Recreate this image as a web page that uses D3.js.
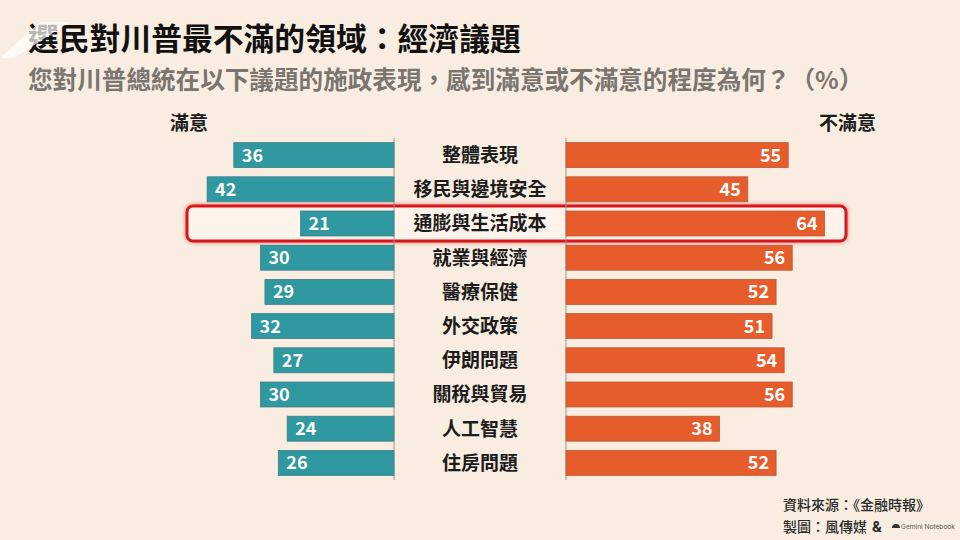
<!DOCTYPE html>
<html>
<head>
<meta charset="utf-8">
<script src="https://cdn.jsdelivr.net/npm/d3@7"></script>
<style>
  body { margin: 0; background: #f9ede1; }
  svg { display: block; font-family: "Noto Sans CJK TC", "Noto Sans", sans-serif; }
</style>
</head>
<body>
<div id="chart-area"></div>
<script>
const categories = ["整體表現", "移民與邊境安全", "通膨與生活成本", "就業與經濟", "醫療保健",
  "外交政策", "伊朗問題", "關稅與貿易", "人工智慧", "住房問題"];
const satisfied = [36, 42, 21, 30, 29, 32, 27, 30, 24, 26];
const dissatisfied = [55, 45, 64, 56, 52, 51, 54, 56, 38, 52];
const highlight = "通膨與生活成本";

const title = "選民對川普最不滿的領域：經濟議題";
const subtitle = "您對川普總統在以下議題的施政表現，感到滿意或不滿意的程度為何？（%）";
const leftLabel = "滿意";
const rightLabel = "不滿意";
const sourceText = "資料來源：《金融時報》";
const creditText = "製圖：風傳媒";
const creditTool = "Gemini Notebook";

const width = 960, height = 540;
const teal = "#2f98a0", orange = "#e65c2b";

const svg = d3.select("#chart-area")
  .append("svg")
  .attr("width", width)
  .attr("height", height);

svg.append("rect")
  .attr("width", width)
  .attr("height", height)
  .attr("fill", "#f9ede1");

// scales (left and right halves are drawn at slightly different widths in the original)
const y = d3.scaleBand()
  .domain(categories)
  .range([138, 480])
  .paddingInner(0.27)
  .paddingOuter(0.135);

const xLeft = d3.scaleLinear().domain([0, 50]).range([394, 394 - 222.5]);
const xRight = d3.scaleLinear().domain([0, 60]).range([566, 566 + 242.4]);

// highlight box
const hy = y(highlight) + y.bandwidth() / 2;
svg.append("rect")
  .attr("x", 187)
  .attr("y", hy - 17.5)
  .attr("width", 659)
  .attr("height", 35)
  .attr("rx", 6)
  .attr("fill", "#fdf3ea")
  .attr("stroke", "#d8161b")
  .attr("stroke-width", 3)
  .style("filter", "drop-shadow(0 0 2px rgba(220,30,30,0.6))");

// baseline lines
[xLeft(0), xRight(0)].forEach(x => {
  svg.append("line")
    .attr("x1", x).attr("x2", x)
    .attr("y1", y.range()[0]).attr("y2", y.range()[1])
    .attr("stroke", "#9a9590")
    .attr("stroke-width", 1);
});

const rows = categories.map((c, i) => ({ cat: c, sat: satisfied[i], dis: dissatisfied[i] }));

const row = svg.selectAll(".row")
  .data(rows)
  .enter()
  .append("g")
  .attr("class", "row");

row.append("rect")
  .attr("x", d => xLeft(d.sat))
  .attr("y", d => y(d.cat))
  .attr("width", d => xLeft(0) - xLeft(d.sat))
  .attr("height", y.bandwidth())
  .attr("fill", teal)
  .attr("stroke", "#3f7f83")
  .attr("stroke-width", 0.8);

row.append("rect")
  .attr("x", xRight(0))
  .attr("y", d => y(d.cat))
  .attr("width", d => xRight(d.dis) - xRight(0))
  .attr("height", y.bandwidth())
  .attr("fill", orange)
  .attr("stroke", "#b85a3a")
  .attr("stroke-width", 0.8);

row.append("text")
  .attr("x", d => xLeft(d.sat) + 8)
  .attr("y", d => y(d.cat) + y.bandwidth() / 2)
  .attr("dy", "0.36em")
  .attr("fill", "#fff")
  .attr("font-size", 18)
  .attr("font-weight", 700)
  .text(d => d.sat);

row.append("text")
  .attr("x", d => xRight(d.dis) - 7)
  .attr("y", d => y(d.cat) + y.bandwidth() / 2)
  .attr("dy", "0.36em")
  .attr("text-anchor", "end")
  .attr("fill", "#fff")
  .attr("font-size", 18)
  .attr("font-weight", 700)
  .text(d => d.dis);

row.append("text")
  .attr("x", (xLeft(0) + xRight(0)) / 2)
  .attr("y", d => y(d.cat) + y.bandwidth() / 2)
  .attr("dy", "0.36em")
  .attr("text-anchor", "middle")
  .attr("fill", "#1c1c1c")
  .attr("font-size", 19)
  .attr("font-weight", 700)
  .text(d => d.cat);

// header
svg.append("text")
  .attr("x", 28).attr("y", 50)
  .attr("font-size", 30.8)
  .attr("font-weight", 700)
  .attr("fill", "#111")
  .text(title);

svg.append("text")
  .attr("x", 28).attr("y", 89)
  .attr("font-size", 24.6)
  .attr("font-weight", 700)
  .attr("fill", "#7a756f")
  .text(subtitle);

svg.append("text")
  .attr("x", 170).attr("y", 130)
  .attr("font-size", 19)
  .attr("font-weight", 700)
  .attr("fill", "#1c1c1c")
  .text(leftLabel);

svg.append("text")
  .attr("x", 876).attr("y", 130)
  .attr("text-anchor", "end")
  .attr("font-size", 19)
  .attr("font-weight", 700)
  .attr("fill", "#1c1c1c")
  .text(rightLabel);

// watermark slash in the corner
svg.append("path")
  .attr("d", "M0,58 L14,58 L70,22 L40,22 Z")
  .attr("fill", "#fff")
  .attr("opacity", 0.7);

// footer
svg.append("text")
  .attr("x", 783).attr("y", 510)
  .attr("font-size", 14)
  .attr("font-weight", 500)
  .attr("fill", "#2a2a2a")
  .text(sourceText);

const credit = svg.append("g").attr("transform", "translate(783,532)");
credit.append("text")
  .attr("font-size", 14)
  .attr("font-weight", 500)
  .attr("fill", "#2a2a2a")
  .text(creditText);
credit.append("text")
  .attr("x", 89)
  .attr("font-size", 15)
  .attr("font-weight", 700)
  .attr("fill", "#2a2a2a")
  .attr("font-family", "Roboto, sans-serif")
  .text("&");
credit.append("path")
  .attr("d", "M109,-4 a4,4 0 0 1 8,0 z")
  .attr("fill", "#333");
credit.append("text")
  .attr("x", 118)
  .attr("y", -3)
  .attr("font-size", 6.6)
  .attr("fill", "#555")
  .attr("font-family", "Inter, sans-serif")
  .text(creditTool);
</script>
</body>
</html>
